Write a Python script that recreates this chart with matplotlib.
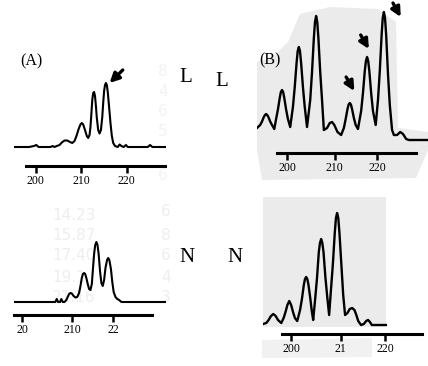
import numpy as np
import matplotlib.pyplot as plt
from matplotlib.patches import Polygon

plt.rcParams['font.family'] = ['Liberation Serif', 'DejaVu Serif']

# ---- traces (x = size in bp, y = signal, baseline 0) ----
a_bp = [195.2, 198.5, 199.6, 200.1, 200.6, 203.2, 203.7, 204.1, 204.6, 205.2, 205.7,
        206.3, 206.9, 207.5, 208.0, 208.5, 209.0, 209.4, 209.8, 210.1, 210.4, 210.8,
        211.2, 211.5, 211.8, 212.0, 212.2, 212.4, 212.6, 212.8, 213.0, 213.2, 213.4,
        213.7, 214.0, 214.3, 214.6, 214.8, 215.0, 215.2, 215.4, 215.6, 215.8, 216.1,
        216.4, 216.7, 217.0, 217.4, 218.0, 218.4, 218.8, 219.3, 219.8, 220.2, 224.6,
        225.1, 225.6, 228.5]
a_sig = [0, 0, 1, 2, 0, 0, 1, 0, 1, 2, 4.5,
         6.5, 6.5, 5, 4, 6, 12, 18, 22.5, 24, 22.5, 17,
         11, 9, 12, 20, 33, 47, 54, 55, 51, 41, 29,
         17, 13.5, 17, 30, 44, 56, 62, 64, 62, 55, 40,
         24, 11, 4, 1, 0, 2.5, 1, 0, 2, 0, 0,
         2, 0, 0]

b_bp = [193.4, 194.1, 194.5, 194.9, 195.15, 195.4, 195.65, 195.9, 196.3, 196.7, 197.2,
        197.6, 198.0, 198.4, 198.65, 198.9, 199.15, 199.4, 199.8, 200.2, 200.7,
        201.3, 201.7, 202.1, 202.35, 202.6, 202.85, 203.1, 203.5, 203.9, 204.4,
        205.1, 205.5, 205.9, 206.15, 206.4, 206.65, 206.9, 207.3, 207.7, 208.1,
        208.8, 209.4, 209.9, 210.4, 211.1, 211.9,
        212.5, 212.9, 213.3, 213.55, 213.8, 214.05, 214.3, 214.7, 215.1, 215.6,
        216.3, 216.7, 217.1, 217.35, 217.6, 217.85, 218.1, 218.5, 218.9, 219.5,
        220.0, 220.4, 220.8, 221.05, 221.3, 221.55, 221.8, 222.2, 222.6, 223.1, 223.5,
        224.2, 224.9, 225.5, 226.2, 226.8, 231.0]
b_sig = [12, 15, 18.5, 23, 25, 26, 25, 23, 18.5, 15, 11,
         21, 30.5, 42, 48, 50, 48, 42, 30.5, 21, 13,
         33, 53, 77, 89, 93, 89, 77, 53, 33, 13,
         40, 68, 102, 118, 124, 118, 102, 68, 40, 10,
         12, 17, 18, 15, 8, 5,
         12, 21, 31, 35.5, 37, 35.5, 31, 22, 15, 11,
         29, 47, 69, 79, 83, 79, 69, 47, 29, 15,
         40, 69, 105, 122, 128, 122, 105, 66, 35, 10, 5,
         5, 8, 6, 1, 0, 0]

c_bp = [198.2, 207.3, 207.6, 207.9, 208.3, 208.6, 208.9, 209.3, 209.7, 210.0, 210.3,
        210.6, 210.9, 211.3, 211.7, 212.1, 212.5, 212.8, 213.1, 213.35, 213.6, 213.85,
        214.1, 214.4, 214.7, 215.0, 215.3, 215.5, 215.8, 216.05, 216.3, 216.55, 216.8,
        217.1, 217.4, 217.7, 218.0, 218.3, 218.65, 218.9, 219.15, 219.5, 219.8, 220.1,
        220.5, 220.9, 221.3, 221.8, 231.6]
c_sig = [0, 0, 3, 0, 0, 3, 0, 0, 2, 5, 8,
         9, 8.5, 6, 4.5, 5, 9, 16, 24, 28, 29, 28,
         24, 18, 13, 12, 18, 30, 48, 57, 60, 57, 48,
         31, 19, 16, 22, 34, 42, 44, 42, 33, 20, 10,
         5, 3, 2, 0, 0]

d_bp = [194.0, 194.7, 195.2, 195.7, 196.2, 196.7, 197.2, 197.9,
        198.4, 198.8, 199.2, 199.6, 200.0, 200.4, 200.8, 201.3,
        201.9, 202.3, 202.7, 202.95, 203.2, 203.45, 203.7, 204.1, 204.4, 204.7,
        205.1, 205.5, 205.9, 206.15, 206.4, 206.65, 206.9, 207.3, 207.7, 208.1,
        208.5, 208.9, 209.3, 209.55, 209.8, 210.05, 210.3, 210.7, 211.1, 211.5,
        212.0, 212.5, 213.0, 213.5, 213.9, 214.3, 214.9,
        215.5, 216.0, 216.4, 216.8, 217.2, 220.2]
d_sig = [1, 2, 5, 9, 11, 9, 5, 2,
         7, 13, 20, 24, 20, 13, 7, 4,
         15, 26, 40, 46, 48, 46, 40, 26, 14, 5,
         25, 46, 73, 82, 86, 82, 73, 48, 28, 10,
         36, 61, 92, 107, 112, 107, 92, 61, 30, 10,
         12, 16, 17, 15, 10, 4, 0,
         1, 4, 5, 3, 0, 0]

ticks_a, labels_a = [200, 210, 220], ['200', '210', '220']
ticks_b, labels_b = [200, 210.5, 219.8], ['200', '210', '220']
ticks_c, labels_c = [200, 211, 220], ['20', '210', '22']
ticks_d, labels_d = [200, 210.6, 220], ['200', '21', '220']

# arrows: (tail x, tail y, head x, head y) in data units
arrows_a = [(219.1, 77, 216.2, 64)]
arrows_b = [(213.0, 63, 214.8, 49), (216.2, 105, 218.0, 91), (223.3, 137, 225.0, 123)]

W, H = 428, 366
fig = plt.figure(figsize=(W / 100, H / 100), dpi=100)


def px_axes(l, t, r, b):
    ax = fig.add_axes([l / W, 1 - b / H, (r - l) / W, (b - t) / H])
    ax.set_facecolor('none')
    for s in ['top', 'right', 'left']:
        ax.spines[s].set_visible(False)
    ax.spines['bottom'].set_linewidth(2.2)
    ax.set_yticks([])
    ax.tick_params(axis='x', direction='out', length=5, width=1.8, labelsize=8.5, pad=1.5)
    return ax


def bg(pts, color):
    pts = np.array(pts, dtype=float)
    pts[:, 0] /= W
    pts[:, 1] = 1 - pts[:, 1] / H
    fig.add_artist(Polygon(pts, closed=True, transform=fig.transFigure,
                           facecolor=color, edgecolor='none', zorder=-5))


def arrow(ax, x0, y0, x1, y1):
    ax.annotate('', xy=(x1, y1), xytext=(x0, y0),
                arrowprops=dict(arrowstyle='-|>', lw=2.4, color='black', mutation_scale=14,
                                shrinkA=0, shrinkB=0))


# scanned grey backgrounds
bg([(257, 62), (272, 58), (288, 42), (300, 14), (330, 7), (378, 9), (396, 22),
    (398, 128), (428, 132), (428, 150), (416, 178), (262, 180), (257, 150)], '#ebebeb')
bg([(263, 197), (386, 197), (386, 327), (263, 327)], '#ebebeb')
bg([(262, 340), (372, 338), (372, 357), (262, 358)], '#f1f1f1')

# faint bleed-through of the table printed on the back of the page
for yy, txt in zip([215, 235, 255, 277, 297], ['14.23', '15.87', '17.40', '19.1', '21.16']):
    fig.text(52 / W, 1 - yy / H, txt, fontsize=11, color='#eeeeee',
             family='DejaVu Sans', ha='left', va='center', zorder=-4)
for yy, txt in zip([212, 235, 255, 277, 297], ['6', '8', '6', '4', '3']):
    fig.text(161 / W, 1 - yy / H, txt, fontsize=11, color='#eeeeee',
             family='DejaVu Sans', ha='left', va='center', zorder=-4)
for yy, txt in zip([72, 92, 112, 132, 176], ['8', '4', '6', '5', '6']):
    fig.text(158 / W, 1 - yy / H, txt, fontsize=11, color='#f3f3f3',
             family='DejaVu Sans', ha='left', va='center', zorder=-4)

# (A) top
ax = px_axes(14, 60, 166, 166)
ax.plot(a_bp, a_sig, color='black', lw=1.5)
ax.set_xlim(195.2, 228.6)
ax.set_ylim(-19, 87)
ax.spines['bottom'].set_bounds(197.8, 228.4)
ax.set_xticks(ticks_a, labels_a)
for x0, y0, x1, y1 in arrows_a:
    arrow(ax, x0, y0, x1, y1)

# (B) top
ax = px_axes(257, 0, 428, 153)
ax.plot(b_bp, b_sig, color='black', lw=1.7)
ax.set_xlim(193.4, 231.0)
ax.set_ylim(-13, 140)
ax.spines['bottom'].set_bounds(197.8, 228.4)
ax.set_xticks(ticks_b, labels_b)
for x0, y0, x1, y1 in arrows_b:
    arrow(ax, x0, y0, x1, y1)

# (A) bottom
ax = px_axes(14, 230, 166, 315)
ax.plot(c_bp, c_sig, color='black', lw=1.5)
ax.set_xlim(198.2, 231.6)
ax.set_ylim(-13, 72)
ax.spines['bottom'].set_bounds(198.2, 228.6)
ax.set_xticks(ticks_c, labels_c)

# (B) bottom
ax = px_axes(263, 197, 422, 334)
ax.plot(d_bp, d_sig, color='black', lw=1.7)
ax.set_xlim(194.0, 227.9)
ax.set_ylim(-9, 128)
ax.spines['bottom'].set_bounds(198.1, 227.9)
ax.set_xticks(ticks_d, labels_d)

# panel letters and L / N labels
fig.text(20 / W, 1 - 61 / H, '(A)', fontsize=11.5, va='center', ha='left')
fig.text(259 / W, 1 - 60 / H, '(B)', fontsize=11.5, va='center', ha='left')
fig.text(186 / W, 1 - 78 / H, 'L', fontsize=15, va='center', ha='center')
fig.text(222 / W, 1 - 81 / H, 'L', fontsize=15, va='center', ha='center')
fig.text(187 / W, 1 - 257 / H, 'N', fontsize=15, va='center', ha='center')
fig.text(235 / W, 1 - 257 / H, 'N', fontsize=15, va='center', ha='center')

fig.savefig('out.png', dpi=100, facecolor='white')
